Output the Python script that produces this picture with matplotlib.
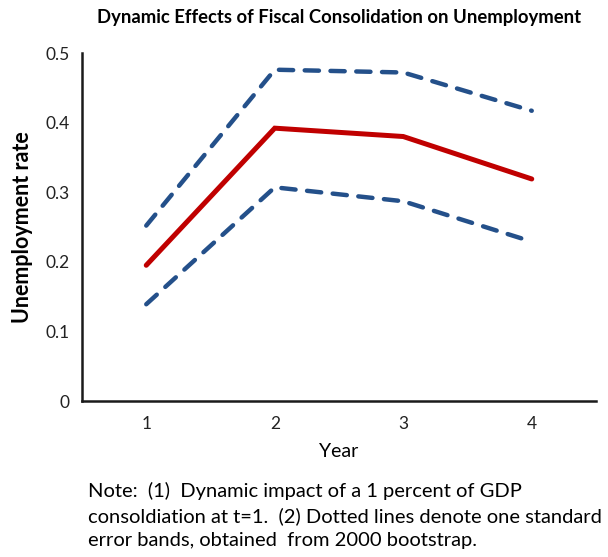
import matplotlib
matplotlib.use("Agg")
import matplotlib.pyplot as plt

years = [1, 2, 3, 4]
estimate = [0.195, 0.392, 0.380, 0.319]
upper_band = [0.252, 0.476, 0.472, 0.417]
lower_band = [0.139, 0.307, 0.287, 0.229]
y_ticks = [0, 0.1, 0.2, 0.3, 0.4, 0.5]
y_tick_labels = ["0", "0.1", "0.2", "0.3", "0.4", "0.5"]

plt.rcParams["font.family"] = ["Lato", "DejaVu Sans"]

fig = plt.figure(figsize=(6.08, 5.57), dpi=100)
ax = fig.add_axes([82 / 608, 1 - 401 / 557, (596 - 82) / 608, (401 - 53) / 557])

red = "#C00000"
blue = "#24508A"

ax.plot(years, upper_band, color=blue, lw=3.2, dashes=(3.2, 2.6),
        dash_capstyle="round", solid_capstyle="round")
ax.plot(years, lower_band, color=blue, lw=3.2, dashes=(3.2, 2.6),
        dash_capstyle="round", solid_capstyle="round")
ax.plot(years, estimate, color=red, lw=3.6, solid_capstyle="round",
        solid_joinstyle="miter")

ax.set_xlim(0.5, 4.5)
ax.set_ylim(0, 0.5)
ax.set_xticks(years)
ax.set_xticklabels([str(y) for y in years])
ax.set_yticks(y_ticks)
ax.set_yticklabels(y_tick_labels)
ax.tick_params(length=0, labelsize=12.5, colors="#222222")
ax.tick_params(axis="x", pad=11)
ax.tick_params(axis="y", pad=9)

for side in ["top", "right"]:
    ax.spines[side].set_visible(False)
for side in ["left", "bottom"]:
    ax.spines[side].set_linewidth(1.8)
    ax.spines[side].set_color("#1a1a1a")

ax.set_xlabel("Year", fontsize=14, labelpad=8)
ax.set_ylabel("Unemployment rate", fontsize=15.5, fontweight="bold", labelpad=9)

fig.text(0.5 * (82 + 596) / 608, 1 - 17 / 557,
         "Dynamic Effects of Fiscal Consolidation on Unemployment",
         ha="center", va="center", fontsize=13.3, fontweight="bold")

note = ("Note:  (1)  Dynamic impact of a 1 percent of GDP\n"
        "consoldiation at t=1.  (2) Dotted lines denote one standard\n"
        "error bands, obtained  from 2000 bootstrap.")
fig.text(88 / 608, 1 - 482 / 557, note, ha="left", va="top",
         fontsize=14.5, linespacing=1.47)

fig.savefig("out.png", dpi=100)
